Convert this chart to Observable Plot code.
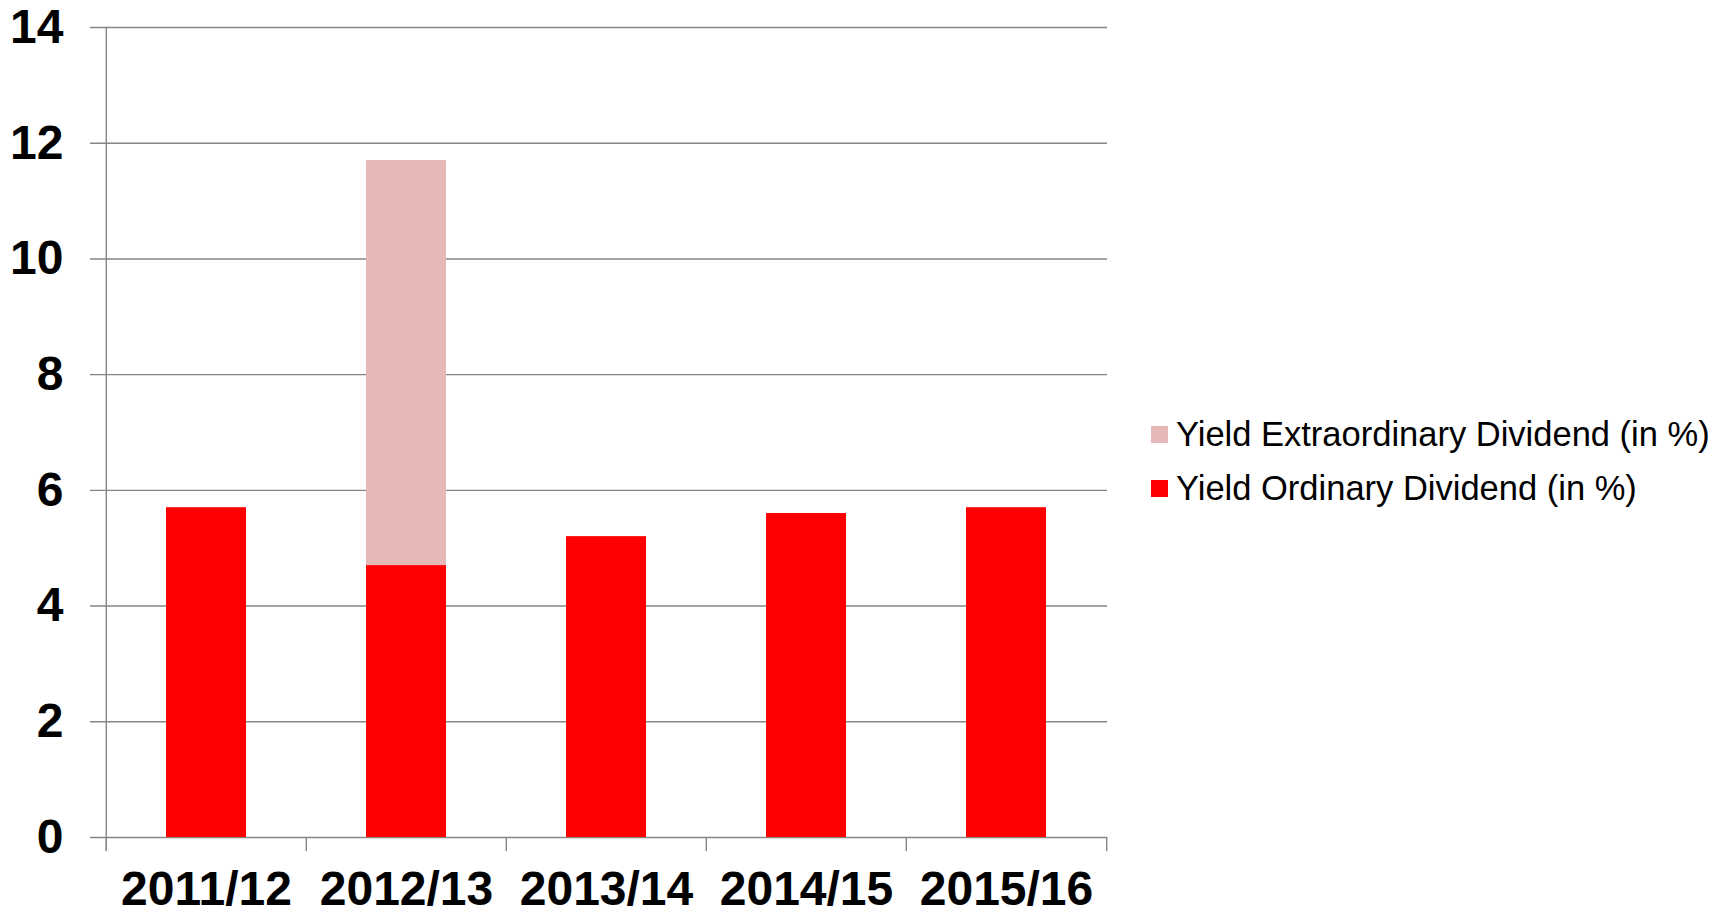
<!DOCTYPE html>
<html><head><meta charset="utf-8">
<script src="https://cdn.jsdelivr.net/npm/d3@7"></script>
<script src="https://cdn.jsdelivr.net/npm/@observablehq/plot@0.6"></script>
<style>
body{margin:0;background:#fff;font-family:"Liberation Sans",Arial,sans-serif;}
#wrap{position:relative;width:1732px;height:915px;}
#legend{position:absolute;left:1151px;top:407px;font-size:34.5px;color:#000;white-space:nowrap;}
.row{display:flex;align-items:center;height:54px;}
.sw{width:17px;height:17px;margin-right:8px;flex:none;}
</style></head><body><div id="wrap"><div id="legend"></div></div>
<script>
const years = ["2011/12","2012/13","2013/14","2014/15","2015/16"];
const ordinary = [5.7, 4.7, 5.2, 5.6, 5.7];
const extraordinary = [0, 7.0, 0, 0, 0];
const seriesNames = ["Yield Ordinary Dividend (in %)", "Yield Extraordinary Dividend (in %)"];
const seriesColors = ["#ff0000", "#e6b9b8"];
const yTicks = [0, 2, 4, 6, 8, 10, 12, 14];

const rows = [];
years.forEach((y, i) => rows.push({year: y, series: seriesNames[0], value: ordinary[i]}));
years.forEach((y, i) => { if (extraordinary[i] > 0) rows.push({year: y, series: seriesNames[1], value: extraordinary[i]}); });

const W = 1732, H = 915, mL = 105, mR = 625, mT = 27, mB = 78;
const half = (W - mL - mR) / years.length / 2;
const grid = "#858585";

const chart = Plot.plot({
  width: W, height: H,
  marginLeft: mL, marginRight: mR, marginTop: mT, marginBottom: mB,
  style: {fontFamily: "'Liberation Sans', Arial, sans-serif", fontSize: "48px", fontWeight: "bold", color: "#000", background: "#fff"},
  x: {type: "band", domain: years, paddingInner: 0.6, paddingOuter: 0.3, label: null},
  y: {domain: [0, 14], label: null},
  color: {domain: seriesNames, range: seriesColors},
  marks: [
    Plot.ruleY(yTicks, {stroke: grid, strokeWidth: 1.4, insetLeft: -15}),
    Plot.barY(rows, {x: "year", y: "value", fill: "series"}),
    Plot.ruleX(years, {x: d => d, y1: 0, y2: 0, insetBottom: -14, dx: -half, stroke: grid, strokeWidth: 1.4}),
    Plot.ruleX([years[years.length - 1]], {x: d => d, y1: 0, y2: 0, insetBottom: -14, dx: half, stroke: grid, strokeWidth: 1.4}),
    Plot.ruleX([years[0]], {x: d => d, y1: 14, y2: 0, insetBottom: -14, dx: -half, stroke: grid, strokeWidth: 1.4}),
    Plot.axisY({ticks: yTicks, tickSize: 0, tickPadding: 42, label: null}),
    Plot.axisX({tickSize: 0, tickPadding: 33, label: null})
  ]
});
document.getElementById("wrap").prepend(chart);

const legend = document.getElementById("legend");
[1, 0].forEach(k => {
  const r = document.createElement("div"); r.className = "row";
  const s = document.createElement("div"); s.className = "sw"; s.style.background = seriesColors[k];
  const t = document.createElement("span"); t.textContent = seriesNames[k];
  r.append(s, t); legend.append(r);
});
</script></body></html>
